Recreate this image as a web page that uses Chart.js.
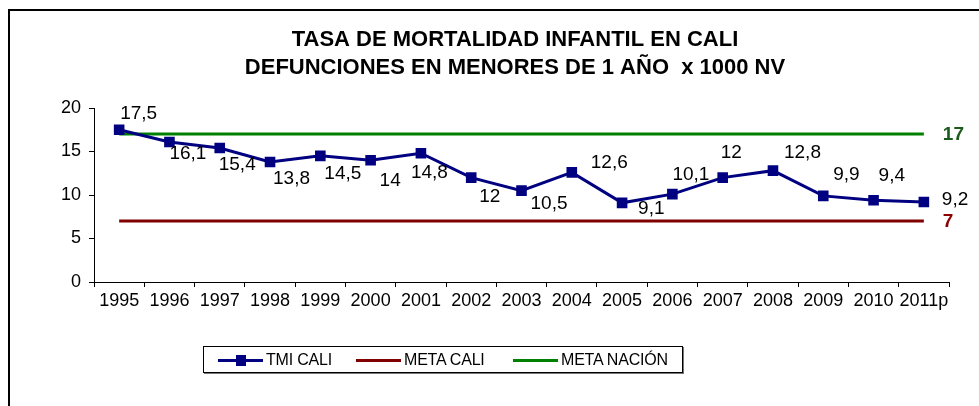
<!DOCTYPE html>
<html>
<head>
<meta charset="utf-8">
<script src="https://cdn.jsdelivr.net/npm/chart.js@4.4.0/dist/chart.umd.min.js"></script>
<style>
  html, body { margin: 0; padding: 0; background: #fff; overflow: hidden; }
  #wrap { position: relative; width: 979px; height: 406px; }
  #frame { position: absolute; left: 8px; top: 9px; width: 1200px; height: 600px; border: 2px solid #000; }
  #chart { position: absolute; left: 0; top: 0; }
  #legend {
    position: absolute; left: 203px; top: 346px; width: 478px; height: 25px;
    border: 1px solid #000; box-shadow: 1px 1px 0 #777;
    font: 16px "Liberation Sans", Arial, sans-serif; letter-spacing: -0.2px;
  }
  .item { position: absolute; top: 4px; height: 18px; line-height: 18px; white-space: nowrap; }
  .swatch { display: inline-block; width: 45px; height: 3px; vertical-align: middle; position: relative; margin-right: 3px; }
  .swatch i { position: absolute; left: 18px; top: -4px; width: 10px; height: 11px; background: #000080; }
</style>
</head>
<body>
<div id="wrap">
  <div id="frame"></div>
  <canvas id="chart" width="979" height="406"></canvas>
  <div id="legend">
    <div class="item" style="left:14px"><span class="swatch" style="background:#000080"><i></i></span>TMI CALI</div>
    <div class="item" style="left:152px"><span class="swatch" style="background:#800000"></span>META CALI</div>
    <div class="item" style="left:309px"><span class="swatch" style="background:#008000"></span>META NACIÓN</div>
  </div>
</div>
<script>
// Data
const years = ["1995", "1996", "1997", "1998", "1999", "2000", "2001", "2002", "2003",
               "2004", "2005", "2006", "2007", "2008", "2009", "2010", "2011p"];
const tmiCali = [17.5, 16.1, 15.4, 13.8, 14.5, 14, 14.8, 12, 10.5, 12.6, 9.1, 10.1, 12, 12.8, 9.9, 9.4, 9.2];
const metaCali = [7, 7, 7, 7, 7, 7, 7, 7, 7, 7, 7, 7, 7, 7, 7, 7, 7];
const metaNacion = [17, 17, 17, 17, 17, 17, 17, 17, 17, 17, 17, 17, 17, 17, 17, 17, 17];
const yTicks = [0, 5, 10, 15, 20];
const titleLines = ["TASA DE MORTALIDAD INFANTIL EN CALI", "DEFUNCIONES EN MENORES DE 1 AÑO  x 1000 NV"];

// label placement relative to each point (left edge dx, middle dy)
const labelOffsets = [[1, -16], [0, 12], [-1, 17], [3, 17], [4, 18], [9, 21], [-10, 20], [8, 19], [9, 13],
                      [19, -10], [16, 6], [0, -19], [-2, -25], [11, -18], [10, -21], [5, -24], [18, -2]];

const FONT = '"Liberation Sans", Arial, sans-serif';

// draws the title, the value labels and the end labels of the goal lines
const textPlugin = {
    id: "texts",
    afterDatasetsDraw(chart) {
        const ctx = chart.ctx;
        ctx.save();
        ctx.fillStyle = "#000";
        ctx.textAlign = "center";
        ctx.textBaseline = "middle";
        ctx.font = "bold 22px " + FONT;
        ctx.fillText(titleLines[0], 515, 40);
        ctx.fillText(titleLines[1], 515, 68);

        ctx.textAlign = "left";
        ctx.font = "19px " + FONT;
        const pts = chart.getDatasetMeta(0).data;
        pts.forEach((p, i) => {
            const txt = String(tmiCali[i]).replace(".", ",");
            ctx.fillText(txt, p.x + labelOffsets[i][0], p.y + labelOffsets[i][1]);
        });

        ctx.font = "bold 19px " + FONT;
        const last = years.length - 1;
        const red = chart.getDatasetMeta(1).data[last];
        const green = chart.getDatasetMeta(2).data[last];
        ctx.fillStyle = "#8b0000";
        ctx.fillText(String(metaCali[last]), red.x + 19, red.y + 1);
        ctx.fillStyle = "#1a5a1a";
        ctx.fillText(String(metaNacion[last]), green.x + 19, green.y + 1);
        ctx.restore();
    }
};

new Chart(document.getElementById("chart"), {
    type: "line",
    data: {
        labels: years,
        datasets: [
            {
                label: "TMI CALI",
                data: tmiCali,
                borderColor: "#000080",
                backgroundColor: "#000080",
                borderWidth: 3,
                pointStyle: "rect",
                pointRadius: 7.5,
                pointBorderWidth: 0,
                tension: 0
            },
            {
                label: "META CALI",
                data: metaCali,
                borderColor: "#800000",
                borderWidth: 3,
                pointRadius: 0
            },
            {
                label: "META NACIÓN",
                data: metaNacion,
                borderColor: "#008000",
                borderWidth: 3,
                pointRadius: 0
            }
        ]
    },
    options: {
        responsive: false,
        animation: false,
        layout: { padding: { left: 0, top: 108, right: 30, bottom: 0 } },
        plugins: {
            legend: { display: false },
            title: { display: false },
            tooltip: { enabled: false }
        },
        scales: {
            x: {
                offset: true,
                grid: { offset: true, drawOnChartArea: false, tickLength: 5, color: "#000", lineWidth: 1 },
                border: { color: "#000", width: 1 },
                ticks: { color: "#000", font: { family: FONT, size: 18 }, autoSkip: false, maxRotation: 0, padding: 3 },
                afterFit(scale) { scale.height = 124; }
            },
            y: {
                min: 0,
                max: 20,
                afterBuildTicks(scale) { scale.ticks = yTicks.map(v => ({ value: v })); },
                grid: { drawOnChartArea: false, tickLength: 5, color: "#000", lineWidth: 1 },
                border: { color: "#000", width: 1 },
                ticks: { color: "#000", font: { family: FONT, size: 18 }, padding: 8 },
                afterFit(scale) { scale.width = 94; }
            }
        }
    },
    plugins: [textPlugin]
});
</script>
</body>
</html>
